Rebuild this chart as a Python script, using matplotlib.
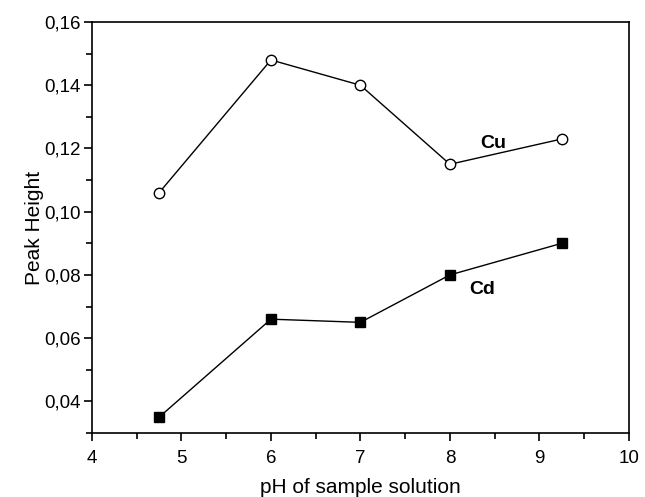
import matplotlib
matplotlib.use("Agg")
import matplotlib.pyplot as plt
from matplotlib.ticker import MultipleLocator, FuncFormatter

plt.rcParams['font.family'] = ['Liberation Sans', 'DejaVu Sans']

ph = [4.75, 6, 7, 8, 9.25]
cu = [0.106, 0.148, 0.140, 0.115, 0.123]
cd = [0.035, 0.066, 0.065, 0.080, 0.090]

fig = plt.figure(figsize=(6.45, 4.97), dpi=100)
ax = fig.add_axes([0.1426, 0.1288, 0.975 - 0.1426, 0.9557 - 0.1288])

ax.plot(ph, cu, color='black', lw=1, marker='o', ms=7.5, mfc='white', mec='black', mew=1)
ax.plot(ph, cd, color='black', lw=1, marker='s', ms=7, mfc='black', mec='black')

ax.text(8.48, 0.1215, 'Cu', fontsize=14, fontweight='bold', ha='center', va='center')
ax.text(8.36, 0.0755, 'Cd', fontsize=14, fontweight='bold', ha='center', va='center')

ax.set_xlim(4, 10)
ax.set_ylim(0.03, 0.16)
ax.xaxis.set_major_locator(MultipleLocator(1))
ax.xaxis.set_minor_locator(MultipleLocator(0.5))
ax.yaxis.set_minor_locator(MultipleLocator(0.01))
ax.set_yticks([0.04, 0.06, 0.08, 0.10, 0.12, 0.14, 0.16])
ax.yaxis.set_major_formatter(FuncFormatter(lambda v, p: f"{v:.2f}".replace('.', ',')))
ax.tick_params(which='both', direction='out', top=False, right=False, labelsize=13.5, width=1.2)
ax.tick_params(which='major', length=6)
ax.tick_params(which='minor', length=4)
ax.tick_params(axis='x', which='major', pad=6)
ax.tick_params(axis='y', which='major', pad=2)
for s in ax.spines.values():
    s.set_linewidth(1.2)

ax.set_xlabel('pH of sample solution', fontsize=15, labelpad=8)
ax.set_ylabel('Peak Height', fontsize=15, labelpad=0)

fig.savefig('out.png', dpi=100)
